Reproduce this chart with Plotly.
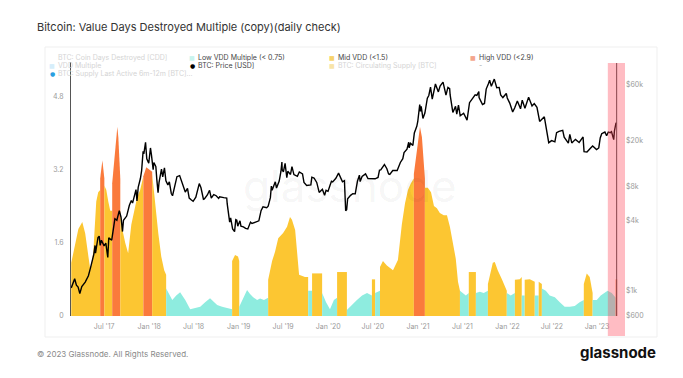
import plotly.graph_objects as go
import math

# ---------------- data ----------------
M, H, L = "mid", "high", "low"

vdd_dates = [
    "2017-02-17", "2017-03-06", "2017-03-18", "2017-04-03", "2017-04-15", "2017-04-28",
    "2017-05-06", "2017-05-18", "2017-05-30", "2017-06-07", "2017-06-15",
    "2017-06-15", "2017-06-24", "2017-07-02",
    "2017-07-02", "2017-07-10", "2017-07-18", "2017-07-26", "2017-08-03",
    "2017-08-03", "2017-08-11", "2017-08-20", "2017-08-24", "2017-08-28", "2017-09-05",
    "2017-09-05", "2017-09-13", "2017-09-25", "2017-10-07", "2017-10-20", "2017-11-01",
    "2017-11-13", "2017-11-25", "2017-12-08",
    "2017-12-08", "2017-12-20", "2018-01-01", "2018-01-13",
    "2018-01-13", "2018-01-25", "2018-02-07", "2018-02-19", "2018-03-03", "2018-03-11",
    "2018-03-11", "2018-03-28", "2018-04-05", "2018-04-21", "2018-05-07", "2018-05-19",
    "2018-05-28", "2018-06-17", "2018-07-07", "2018-07-28", "2018-08-17", "2018-09-06",
    "2018-09-23", "2018-10-05", "2018-10-25", "2018-11-15", "2018-12-05",
    "2018-12-05", "2018-12-17", "2018-12-29", "2019-01-03",
    "2019-01-03", "2019-01-19", "2019-02-04", "2019-02-16", "2019-03-01", "2019-03-17",
    "2019-03-29", "2019-04-14", "2019-05-01",
    "2019-05-01", "2019-05-17", "2019-05-29", "2019-06-11", "2019-07-01", "2019-07-17",
    "2019-07-29", "2019-08-06", "2019-08-19", "2019-08-27", "2019-09-04", "2019-09-28",
    "2019-10-11",
    "2019-10-11", "2019-10-27",
    "2019-10-27", "2019-12-07",
    "2019-12-07", "2019-12-23", "2020-01-08", "2020-01-24", "2020-02-06",
    "2020-02-06", "2020-03-17",
    "2020-03-17", "2020-04-07", "2020-04-27", "2020-05-18", "2020-06-07", "2020-06-27",
    "2020-06-27", "2020-07-10",
    "2020-07-10", "2020-07-30",
    "2020-07-30", "2020-08-11", "2020-08-27", "2020-09-09", "2020-09-21", "2020-10-11",
    "2020-10-27", "2020-11-09", "2020-11-21", "2020-12-03", "2020-12-15",
    "2020-12-15", "2020-12-19", "2021-01-01", "2021-01-09", "2021-01-17", "2021-01-29",
    "2021-01-29", "2021-02-10", "2021-02-23", "2021-03-07", "2021-03-19", "2021-03-31",
    "2021-04-16", "2021-04-29", "2021-05-11", "2021-05-23", "2021-06-04", "2021-06-13",
    "2021-06-21",
    "2021-06-21", "2021-07-03", "2021-07-15", "2021-07-27",
    "2021-07-27", "2021-08-25",
    "2021-08-25", "2021-09-10", "2021-09-26", "2021-10-13",
    "2021-10-13", "2021-10-25", "2021-11-02", "2021-11-10", "2021-11-22", "2021-12-09",
    "2021-12-25", "2021-12-29",
    "2021-12-29", "2022-01-14", "2022-01-31",
    "2022-01-31", "2022-02-20", "2022-02-28",
    "2022-02-28", "2022-03-12",
    "2022-03-12", "2022-04-02", "2022-04-22",
    "2022-04-22", "2022-05-08",
    "2022-05-08", "2022-05-21",
    "2022-05-21", "2022-06-06", "2022-06-22", "2022-07-13", "2022-08-02", "2022-08-22",
    "2022-09-12", "2022-10-02", "2022-10-22", "2022-11-08",
    "2022-11-08", "2022-11-20", "2022-12-02", "2022-12-14",
    "2022-12-14", "2022-12-31", "2023-01-16", "2023-02-01", "2023-02-13", "2023-03-02",
    "2023-03-18",
    "2023-03-18", "2023-03-24",
]
vdd_values = [
    1.16, 1.6, 1.9, 2.05, 1.8, 1.3,
    1.0, 1.4, 2.5, 2.7, 2.75,
    3.0, 3.4, 3.0,
    2.85, 2.75, 2.5, 2.3, 2.3,
    2.9, 3.4, 3.95, 4.13, 3.9, 3.0,
    2.3, 1.9, 1.6, 1.37, 2.0, 2.3,
    2.6, 2.75, 3.0,
    3.05, 3.25, 3.2, 3.15,
    3.1, 2.4, 1.8, 1.3, 1.0, 0.9,
    0.6, 0.45, 0.35, 0.45, 0.52, 0.42,
    0.35, 0.15, 0.18, 0.2, 0.3, 0.39,
    0.3, 0.24, 0.2, 0.17, 0.15,
    1.2, 1.33, 1.3, 1.2,
    0.2, 0.4, 0.57, 0.48, 0.41, 0.35,
    0.38, 0.35, 0.4,
    0.79, 1.2, 1.4, 1.7, 1.81, 1.95,
    2.16, 2.1, 1.88, 1.4, 0.9, 0.85,
    0.85,
    0.55, 0.55,
    0.93, 0.93,
    0.5, 0.3, 0.15, 0.35, 0.4,
    0.96, 0.96,
    0.13, 0.25, 0.35, 0.45, 0.5, 0.45,
    0.8, 0.8,
    0.5, 0.55,
    1.07, 1.2, 1.1, 1.05, 1.0, 1.22,
    2.0, 2.46, 2.75, 2.9, 3.0,
    3.1, 3.3, 3.8, 4.13, 3.9, 3.0,
    2.8, 2.8, 2.7, 2.4, 2.35, 2.25,
    2.2, 2.2, 1.95, 1.6, 1.25, 0.75,
    0.55,
    0.55, 0.5, 0.45, 0.5,
    0.96, 0.96,
    0.5, 0.53, 0.5, 0.55,
    0.7, 1.0, 1.16, 1.18, 1.0, 0.8,
    0.6, 0.55,
    0.5, 0.45, 0.5,
    0.79, 0.8, 0.85,
    0.45, 0.45,
    0.79, 0.8, 0.75,
    0.45, 0.45,
    0.75, 0.7,
    0.6, 0.55, 0.45, 0.41, 0.3, 0.2,
    0.2, 0.22, 0.3, 0.35,
    0.7, 0.93, 0.85, 0.5,
    0.35, 0.35, 0.45, 0.5, 0.55, 0.5,
    0.4,
    0.8, 0.8,
]
vdd_regime = (
    [M] * 11 + [H] * 3 + [M] * 5 + [H] * 6 + [M] * 9 + [H] * 4 + [M] * 6 + [L] * 17
    + [M] * 4 + [L] * 9 + [M] * 13 + [L] * 2 + [M] * 2 + [L] * 5 + [M] * 2 + [L] * 6
    + [M] * 2 + [L] * 2 + [M] * 11 + [H] * 6 + [M] * 13 + [L] * 4 + [M] * 2 + [L] * 4
    + [M] * 8 + [L] * 3 + [M] * 3 + [L] * 2 + [M] * 3 + [L] * 2 + [M] * 2 + [L] * 10
    + [M] * 4 + [L] * 7 + [H] * 2
)

price_dates = [
    "2017-02-17", "2017-03-03", "2017-03-10", "2017-03-17", "2017-03-24", "2017-04-01",
    "2017-04-15", "2017-04-28", "2017-05-06", "2017-05-13", "2017-05-20", "2017-05-25",
    "2017-05-27", "2017-06-06", "2017-06-11", "2017-06-15", "2017-06-20", "2017-07-01",
    "2017-07-08", "2017-07-16", "2017-07-20", "2017-08-01", "2017-08-05", "2017-08-14",
    "2017-08-22", "2017-09-01", "2017-09-08", "2017-09-14", "2017-09-18", "2017-10-01",
    "2017-10-12", "2017-10-20", "2017-10-25", "2017-11-01", "2017-11-08", "2017-11-12",
    "2017-11-17", "2017-11-26", "2017-12-01", "2017-12-07", "2017-12-10", "2017-12-17",
    "2017-12-22", "2017-12-30",
    "2018-01-06", "2018-01-10", "2018-01-17", "2018-01-20", "2018-01-28", "2018-02-01",
    "2018-02-06", "2018-02-10", "2018-02-20", "2018-02-25", "2018-03-04", "2018-03-10",
    "2018-03-18", "2018-03-24", "2018-04-01", "2018-04-06", "2018-04-15", "2018-04-24",
    "2018-05-05", "2018-05-15", "2018-05-28", "2018-06-06", "2018-06-13", "2018-06-22",
    "2018-06-29", "2018-07-10", "2018-07-17", "2018-07-24", "2018-07-31", "2018-08-10",
    "2018-08-14", "2018-08-26", "2018-09-04", "2018-09-11", "2018-09-21", "2018-10-01",
    "2018-10-11", "2018-10-15", "2018-11-01", "2018-11-13", "2018-11-15", "2018-11-20",
    "2018-11-25", "2018-11-29", "2018-12-07", "2018-12-15", "2018-12-20", "2018-12-24",
    "2018-12-28",
    "2019-01-06", "2019-01-10", "2019-01-20", "2019-01-29", "2019-02-07", "2019-02-18",
    "2019-02-24", "2019-03-10", "2019-03-24", "2019-04-02", "2019-04-10", "2019-04-25",
    "2019-05-01", "2019-05-10", "2019-05-14", "2019-05-17", "2019-05-30", "2019-06-04",
    "2019-06-15", "2019-06-22", "2019-06-26", "2019-06-27", "2019-07-02", "2019-07-09",
    "2019-07-16", "2019-07-20", "2019-07-31", "2019-08-06", "2019-08-14", "2019-08-28",
    "2019-09-05", "2019-09-18", "2019-09-24", "2019-10-05", "2019-10-22", "2019-10-26",
    "2019-11-04", "2019-11-15", "2019-11-22", "2019-11-25", "2019-12-08", "2019-12-17",
    "2019-12-23", "2019-12-31",
    "2020-01-08", "2020-01-14", "2020-01-19", "2020-02-01", "2020-02-12", "2020-02-20",
    "2020-02-28", "2020-03-07", "2020-03-12", "2020-03-16", "2020-03-20", "2020-04-01",
    "2020-04-10", "2020-04-20", "2020-04-29", "2020-05-07", "2020-05-10", "2020-05-18",
    "2020-06-01", "2020-06-11", "2020-06-25", "2020-07-10", "2020-07-22", "2020-07-28",
    "2020-08-02", "2020-08-17", "2020-08-27", "2020-09-03", "2020-09-08", "2020-09-20",
    "2020-10-08", "2020-10-21", "2020-10-31", "2020-11-05", "2020-11-17", "2020-11-24",
    "2020-11-26", "2020-12-01", "2020-12-11", "2020-12-17", "2020-12-27", "2020-12-31",
    "2021-01-08", "2021-01-11", "2021-01-14", "2021-01-21", "2021-01-29", "2021-02-08",
    "2021-02-14", "2021-02-21", "2021-02-28", "2021-03-13", "2021-03-25", "2021-04-01",
    "2021-04-13", "2021-04-25", "2021-05-03", "2021-05-10", "2021-05-12", "2021-05-19",
    "2021-05-23", "2021-06-03", "2021-06-08", "2021-06-15", "2021-06-22", "2021-07-06",
    "2021-07-20", "2021-07-30", "2021-08-14", "2021-08-22", "2021-08-29", "2021-09-06",
    "2021-09-07", "2021-09-21", "2021-09-29", "2021-10-06", "2021-10-15", "2021-10-20",
    "2021-10-27", "2021-11-08", "2021-11-18", "2021-11-28", "2021-12-04", "2021-12-13",
    "2021-12-27", "2021-12-31",
    "2022-01-10", "2022-01-22", "2022-01-30", "2022-02-10", "2022-02-23", "2022-03-02",
    "2022-03-13", "2022-03-28", "2022-04-11", "2022-04-20", "2022-05-01", "2022-05-09",
    "2022-05-12", "2022-05-31", "2022-06-13", "2022-06-18", "2022-06-30", "2022-07-13",
    "2022-07-20", "2022-07-30", "2022-08-14", "2022-08-20", "2022-09-06", "2022-09-12",
    "2022-09-20", "2022-10-05", "2022-10-20", "2022-11-05", "2022-11-09", "2022-11-21",
    "2022-12-05", "2022-12-14", "2022-12-30",
    "2023-01-08", "2023-01-14", "2023-01-20", "2023-02-02", "2023-02-09", "2023-02-16",
    "2023-02-24", "2023-03-01", "2023-03-09", "2023-03-10", "2023-03-13", "2023-03-17",
    "2023-03-19", "2023-03-22",
]
price_values = [
    1050, 1260, 1110, 1070, 940, 1080,
    1180, 1340, 1550, 1750, 2050, 2450,
    2100, 2870, 2950, 2450, 2720, 2430,
    2560, 1930, 2850, 2720, 3220, 4170,
    4050, 4900, 4300, 3230, 4050, 4400,
    5450, 6000, 5700, 6750, 7450, 5950,
    7800, 9300, 10900, 16000, 15200, 19100,
    13800, 12600,
    17100, 14900, 11100, 12800, 11800, 9100,
    7000, 8600, 11200, 9600, 11500, 8900,
    8200, 8700, 6900, 6600, 8300, 9650,
    9850, 8500, 7100, 7650, 6300, 6050,
    5900, 6400, 7350, 8400, 7730, 6150,
    6200, 6700, 7350, 6300, 6750, 6600,
    6250, 6450, 6350, 6300, 5600, 4500,
    3900, 4250, 3400, 3230, 4100, 4050,
    3600,
    4000, 3600, 3550, 3440, 3400, 3900,
    3800, 3930, 4000, 4900, 5300, 5200,
    5350, 6350, 8000, 7350, 8700, 7700,
    8850, 10700, 12900, 11100, 10600, 12600,
    9450, 10750, 10080, 11800, 10050, 9700,
    10600, 10200, 8600, 8100, 8200, 9550,
    9400, 8600, 7600, 7050, 7500, 6650,
    7350, 7200,
    8100, 8800, 8700, 9350, 10350, 9600,
    8700, 8900, 4900, 5000, 6200, 6650,
    6870, 6850, 8800, 9950, 8750, 9700,
    10200, 9300, 9250, 9250, 9500, 11000,
    11050, 12300, 11300, 10200, 10100, 10900,
    10900, 12800, 13800, 15600, 16700, 19150,
    17150, 18800, 18000, 23100, 26300, 29000,
    40600, 35500, 39200, 30800, 34300, 46200,
    48700, 57500, 45200, 61200, 52300, 58800,
    63500, 49100, 57200, 55900, 49200, 37000,
    34700, 39200, 33500, 40200, 32500, 34200,
    29800, 42200, 47000, 49300, 48800, 52700,
    46800, 40700, 41500, 55300, 61500, 66000,
    58400, 67500, 56900, 57200, 49300, 46700,
    50700, 46300,
    41800, 35000, 37900, 43600, 37300, 44400,
    37800, 47100, 39500, 41400, 38500, 30100,
    29000, 31800, 22500, 19000, 19800, 19300,
    23200, 23800, 24300, 21200, 18800, 22400,
    18900, 20300, 19100, 21300, 15900, 15800,
    17000, 17800, 16550,
    17100, 20900, 22700, 23500, 21800, 23500,
    23200, 23650, 20350, 20200, 24100, 27400,
    28000, 28100,
]

x_tick_vals = ["2017-07-01", "2018-01-01", "2018-07-01", "2019-01-01", "2019-07-01",
               "2020-01-01", "2020-07-01", "2021-01-01", "2021-07-01", "2022-01-01",
               "2022-07-01", "2023-01-01"]
x_tick_text = ["Jul '17", "Jan '18", "Jul '18", "Jan '19", "Jul '19", "Jan '20",
               "Jul '20", "Jan '21", "Jul '21", "Jan '22", "Jul '22", "Jan '23"]
y_left_ticks = [0, 1.6, 3.2, 4.8]
y_left_text = ["0", "1.6", "3.2", "4.8"]
y_right_ticks = [600, 1000, 4000, 8000, 20000, 60000]
y_right_text = ["$600", "$1k", "$4k", "$8k", "$20k", "$60k"]

highlight_start, highlight_end = "2023-02-14", "2023-04-25"
marker_date = "2023-03-22"

# ---------------- styling ----------------
FONT = "Inter, Noto Sans, sans-serif"
COLORS = {L: "#8eecdf", M: "#fcc632", H: "#fa7a3c"}

W, HGT = 683, 378
ML, MR, MT, MB = 71, 58, 62, 62
PW, PH = W - ML - MR, HGT - MT - MB


def px(x):
    return (x - ML) / PW


def py(y):
    return (HGT - MB - y) / PH


fig = go.Figure()

# VDD regime areas
n = len(vdd_dates)
start = 0
for k in range(1, n):
    if k == n - 1 or vdd_regime[k] != vdd_regime[start]:
        r = vdd_regime[start]
        fig.add_trace(go.Scatter(
            x=vdd_dates[start:k + 1], y=vdd_values[start:k + 1],
            mode="lines", line=dict(width=0, color=COLORS[r]),
            fill="tozeroy", fillcolor=COLORS[r], showlegend=False,
            hoverinfo="skip", yaxis="y"))
        start = k

# Price line
fig.add_trace(go.Scatter(
    x=price_dates, y=price_values, mode="lines",
    line=dict(color="#000000", width=1.4), yaxis="y2", showlegend=False,
    name="BTC: Price [USD]"))

fig.update_layout(
    width=W, height=HGT,
    margin=dict(l=ML, r=MR, t=MT, b=MB),
    paper_bgcolor="white", plot_bgcolor="white",
    font=dict(family=FONT, size=7, color="#999999"),
    xaxis=dict(type="date", range=["2017-02-16", "2023-04-25"],
               tickvals=x_tick_vals, ticktext=x_tick_text,
               showgrid=False, zeroline=False, showline=False, ticks="",
               ticklabelstandoff=5,
               tickfont=dict(size=7, color="#9a9a9a")),
    yaxis=dict(range=[0, 5.545], tickvals=y_left_ticks, ticktext=y_left_text,
               showgrid=False, zeroline=False, showline=True, linecolor="#555555",
               linewidth=1, ticks="", ticklabelstandoff=5,
               tickfont=dict(size=7, color="#9a9a9a")),
    yaxis2=dict(overlaying="y", side="right", type="log",
                range=[math.log10(600), math.log10(600) + 254 / 115.5],
                tickvals=y_right_ticks, ticktext=y_right_text,
                showgrid=False, zeroline=False, showline=False, ticks="",
                tickfont=dict(size=7, color="#9a9a9a")),
)

shapes = [
    # card border
    dict(type="rect", xref="paper", yref="paper", x0=px(45), x1=px(657),
         y0=py(337), y1=py(47), line=dict(color="#efefef", width=1), layer="below"),
    # marker line
    dict(type="line", xref="x", yref="paper", x0=marker_date, x1=marker_date,
         y0=0, y1=py(63), line=dict(color="#444444", width=1), layer="above"),
    # highlight band
    dict(type="rect", xref="x", yref="paper", x0=highlight_start, x1=highlight_end,
         y0=py(336), y1=py(63), fillcolor="rgba(255,70,90,0.36)",
         line=dict(width=0), layer="above"),
]
fig.update_layout(shapes=shapes)

ann = []
# title
ann.append(dict(xref="paper", yref="paper", x=px(35), y=py(27), xanchor="left",
                yanchor="middle", showarrow=False,
                text="Bitcoin: Value Days Destroyed Multiple (copy)(daily check)",
                font=dict(family=FONT, size=11, color="#333333")))
# footer
ann.append(dict(xref="paper", yref="paper", x=px(35), y=py(354), xanchor="left",
                yanchor="middle", showarrow=False,
                text="© 2023 Glassnode. All Rights Reserved.",
                font=dict(family=FONT, size=8, color="#8a8a8a")))
ann.append(dict(xref="paper", yref="paper", x=px(658), y=py(352), xanchor="right",
                yanchor="middle", showarrow=False, text="<b>glassnode</b>",
                font=dict(family=FONT, size=15, color="#111111")))
# watermark
ann.append(dict(xref="paper", yref="paper", x=px(350), y=py(186), xanchor="center",
                yanchor="middle", showarrow=False, text="glassnode",
                font=dict(family=FONT, size=44, color="rgba(0,0,0,0.05)")))

# legend entries (text, marker glyph, marker colour, text colour, col x, row y)
legend_items = [
    ("BTC: Coin Days Destroyed [CDD]", "■", "#ffffff", "#d4d4d4", 52, 57),
    ("Low VDD Multiple (&lt; 0.75)", "■", "#c9f4ee", "#444444", 192, 57),
    ("Mid VDD (&lt;1.5)", "■", "#f7d36b", "#444444", 332, 57),
    ("High VDD (&lt;2.9)", "■", "#f4a58c", "#444444", 473, 57),
    ("VDD Multiple", "■", "#d6eefb", "#d4d4d4", 52, 65),
    ("BTC: Price [USD]", "●", "#000000", "#444444", 192, 65),
    ("BTC: Circulating Supply [BTC]", "■", "#f8e4a8", "#d4d4d4", 332, 65),
    ("-", "", "#ffffff", "#aaaaaa", 473, 65),
    ("BTC: Supply Last Active 6m-12m [BTC]...", "●", "#2a9fe0", "#d4d4d4", 52, 73),
]
for text, glyph, mcol, tcol, cx, ry in legend_items:
    if glyph:
        ann.append(dict(xref="paper", yref="paper", x=px(cx), y=py(ry), xanchor="center",
                        yanchor="middle", showarrow=False, text=glyph,
                        font=dict(family="DejaVu Sans", size=6, color=mcol)))
    ann.append(dict(xref="paper", yref="paper", x=px(cx + 4), y=py(ry), xanchor="left",
                    yanchor="middle", showarrow=False, text=text,
                    font=dict(family=FONT, size=7, color=tcol)))

fig.update_layout(annotations=ann)
fig.write_html("out.html", config={"displayModeBar": False},
               post_script="document.body.style.margin='0';")
